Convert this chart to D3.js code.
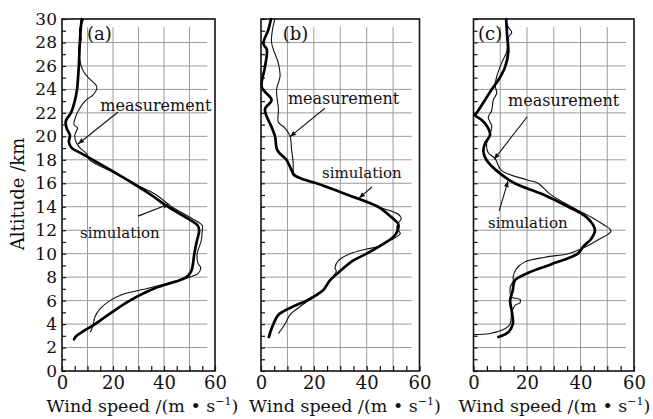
<!DOCTYPE html>
<html>
<head>
<meta charset="utf-8">
<script src="https://cdn.jsdelivr.net/npm/d3@7/dist/d3.min.js"></script>
<style>
  body { margin: 0; background: #fff; }
  svg text { font-family: "DejaVu Serif", serif; fill: #111; }
</style>
</head>
<body>
<div id="chart"></div>
<script>
// ---- data: [wind speed m/s, altitude km] ----
const simA = [[7.7,30],[7.3,29],[7.0,28],[6.8,27],[6.6,26],[6.3,25],[5.9,24],[5.0,23],[3.5,22],[1.5,21.3],[1.8,20.7],[3.1,20.1],[2.7,19.5],[3.9,19.0],[7.6,18.55],[12.1,18],[20,17],[27.8,16],[35,15],[41.5,14],[49.3,13],[53.2,12.4],[53.8,12],[52.9,11.1],[51.9,10],[51.4,9.2],[50.7,8.5],[48.8,8],[44.3,7.6],[36.4,7.05],[26.6,6],[19.5,5],[13,4],[8.4,3.4],[5.7,3.0],[4.7,2.7]];
const measA = [[8.6,30],[7.5,29.5],[6.8,29],[7.6,28.3],[6.5,27.5],[7,26.5],[7.5,26],[8.5,25.5],[10.3,25],[13.5,24.3],[13.6,24],[12,23.5],[9,23],[6,22],[5.1,21.5],[4.7,21],[6.1,20.7],[5.1,20.2],[5.1,19.8],[5.8,19.4],[7.1,19],[9.7,18.5],[10.8,18],[19.5,17],[27.8,16],[37,15],[43,14],[51,13],[55,12.4],[55,12],[54.6,11.1],[53,10],[53.3,9.2],[54.4,8.8],[53.3,8.3],[50,8],[43.6,7.6],[33.8,7.05],[23.4,6.5],[18.8,6],[14.9,5.3],[12.9,4.6],[12.2,3.9],[11.1,3.3]];

const simB = [[3.8,30],[2.8,29.1],[0.9,27.9],[2.2,27.4],[1.5,25.9],[0.3,24.2],[4.0,23.1],[1.5,22.3],[4.0,20.8],[5.3,20.0],[6.2,18.8],[9.6,18],[11.6,17.1],[12.5,16.7],[16.5,16.3],[21,16],[33,15],[44.3,14],[49.4,13.1],[52,12.5],[51.4,11.8],[50,11.4],[46.8,10.9],[40,10],[34.8,9.4],[30.4,8.6],[26,7.7],[23.6,6.9],[17.3,6],[12.2,5.5],[6.6,4.8],[4.7,4],[3.8,3.5],[3,2.9]];
const measB = [[5.3,30],[4.7,29.5],[4.0,28],[6.6,26.2],[7.2,25.1],[5.9,24],[6.6,22.3],[6.6,21.2],[9.1,20.7],[11,20],[11.6,18.8],[12.2,17.7],[12.2,17.1],[12.5,16.8],[16.5,16.3],[21,16],[33,15],[44.3,14],[51.7,13.4],[53.1,13],[52,12.6],[51.4,12.2],[52.7,11.7],[49.5,11.2],[44.3,10.6],[40,10.4],[33.7,10],[29.3,9.4],[28,8.8],[28.5,8.5],[26,7.7],[23.6,6.9],[18,6],[14.8,5.5],[11,4.8],[9.1,4],[6.6,3.2]];

const simC = [[12.2,30],[12.6,28.5],[13,27.2],[11.8,25.9],[9.3,24.8],[6.8,24],[4.3,23.1],[1.2,22],[0.6,21.8],[3.1,21.4],[5.5,20.7],[6.2,20.1],[4.3,19.4],[3.7,18.7],[4.8,18],[8.5,17.1],[15.4,16],[25.4,15.1],[35.4,14],[42.3,13.1],[45.4,12],[44.1,11.3],[41,10.6],[39,10],[29.1,9.1],[19.8,8.3],[15.4,7.7],[14.7,6.9],[13.7,6],[14.3,5.1],[14.7,4],[13,3.3],[9.3,2.9]];
const measC = [[11.8,30],[13,29.3],[14.3,28.9],[13,28.4],[12.4,27.2],[10.6,26.3],[8.7,25.1],[8.1,24.3],[8.7,23.7],[7.4,23.1],[6.8,22.2],[5.5,21.6],[6.8,20.9],[6.2,20.2],[4.9,19.4],[5.5,18.6],[8.1,18.1],[10.4,17.1],[19.8,16.3],[24.2,16],[28.5,15.1],[36.6,14],[44.1,13.1],[49.1,12.4],[51,12.1],[51.4,11.9],[50,11.6],[47.5,11.3],[42.9,10.7],[39.1,10.3],[35.4,10],[26.7,9.7],[19.2,9.3],[16,8.7],[14.8,8],[14.9,7.7],[13.7,7.1],[14.3,6.3],[17.4,6.1],[17.3,5.8],[15.5,5.6],[14.3,5.0],[13.7,4],[11.8,3.6],[6.2,3.2],[0,3.1]];

const panelNames = ["(a)", "(b)", "(c)"];
const speedLabels = [0, 20, 40, 60];
const gridSpeeds = [10, 20, 30, 40, 50];
const gridAlts = d3.range(2, 29, 2);
const xTitle = "Wind speed /(m \u2022 s";
const yTitle = "Altitude /km";

// annotation anchors in data units: text start, arrow tail, arrow tip
const measNotes = [
  { text: [15, 22.2], from: [22.0, 22.07], to: [6.3, 19.35] },
  { text: [10.2, 22.76], from: [24.2, 22.39], to: [11.0, 19.97] },
  { text: [12.9, 22.59], from: [20.1, 21.67], to: [7.7, 18.04] }
];
const simNotes = [
  { text: [7.1, 11.33], from: [29.8, 13.2], to: [42.0, 14.23] },
  { text: [23.1, 16.45], from: [42.0, 15.68], to: [37.1, 14.74] },
  { text: [5.4, 12.19], from: [9.6, 13.64], to: [12.9, 16.19] }
];

// ---- layout ----
const W = 653, H = 419;
const plotTop = 19, plotBottom = 371;
const panelLeft = [62, 261, 473.5];
const panelRight = [215, 419.5, 634];
const titleX = [142.5, 345, 554.5];
const labelAt = [9.8, 8.2, 1.7];

const svg = d3.select("#chart").append("svg")
  .attr("width", W).attr("height", H);

svg.append("defs").append("marker")
  .attr("id", "arrow")
  .attr("viewBox", "0 -5 10 10")
  .attr("refX", 10).attr("refY", 0)
  .attr("markerUnits", "userSpaceOnUse")
  .attr("markerWidth", 8).attr("markerHeight", 6)
  .attr("orient", "auto")
  .append("path").attr("d", "M0,-4L10,0L0,4Z").attr("fill", "#111");

const y = d3.scaleLinear().domain([0, 30]).range([plotBottom, plotTop]);

const sims = [simA, simB, simC];
const meass = [measA, measB, measC];

panelNames.forEach((name, i) => {
  const x = d3.scaleLinear().domain([0, 60]).range([panelLeft[i], panelRight[i]]);
  const g = svg.append("g");

  // grid
  g.selectAll(".vg").data(gridSpeeds).enter().append("line")
    .attr("x1", d => x(d)).attr("x2", d => x(d))
    .attr("y1", y(0)).attr("y2", y(29.3))
    .attr("stroke", "#9a9a9a").attr("stroke-width", 1);
  g.selectAll(".hg").data(gridAlts).enter().append("line")
    .attr("x1", x(0)).attr("x2", x(57))
    .attr("y1", d => y(d)).attr("y2", d => y(d))
    .attr("stroke", "#9a9a9a").attr("stroke-width", 1);

  // panel letter
  g.append("text").attr("x", x(labelAt[i])).attr("y", y(28.2))
    .attr("font-size", 18).text(name);

  // curves
  const line = d3.line().x(d => x(d[0])).y(d => y(d[1])).curve(d3.curveCatmullRom.alpha(0.5));
  g.append("path").datum(meass[i]).attr("d", line)
    .attr("fill", "none").attr("stroke", "#111").attr("stroke-width", 1.1);
  g.append("path").datum(sims[i]).attr("d", line)
    .attr("fill", "none").attr("stroke", "#000").attr("stroke-width", 2.7)
    .attr("stroke-linejoin", "round").attr("stroke-linecap", "round");

  // axes: inward ticks
  const yAxis = d3.axisLeft(y).tickValues(d3.range(0, 31, 1))
    .tickSizeInner(-4).tickSizeOuter(0).tickPadding(5)
    .tickFormat(d => (i === 0 && d % 2 === 0) ? d : "");
  const ya = g.append("g").attr("transform", `translate(${x(0)},0)`).call(yAxis);
  ya.select(".domain").remove();
  ya.selectAll("text").attr("font-family", "DejaVu Serif").attr("font-size", 17).attr("fill", "#111");
  ya.selectAll("line").attr("stroke", "#111").attr("stroke-width", 1.2);

  const xAxis = d3.axisBottom(x).tickValues(d3.range(0, 61, 5))
    .tickSizeInner(-5).tickSizeOuter(0).tickPadding(5)
    .tickFormat(d => speedLabels.includes(d) ? d : "");
  const xa = g.append("g").attr("transform", `translate(0,${y(0)})`).call(xAxis);
  xa.select(".domain").remove();
  xa.selectAll("text").attr("font-family", "DejaVu Serif").attr("font-size", 18).attr("fill", "#111");
  xa.selectAll("line").attr("stroke", "#111").attr("stroke-width", 1.2);

  // frame
  g.append("rect")
    .attr("x", x(0)).attr("y", y(30))
    .attr("width", x(60) - x(0)).attr("height", y(0) - y(30))
    .attr("fill", "none").attr("stroke", "#111").attr("stroke-width", 1.6);

  // annotations
  [[measNotes[i], "measurement", 16], [simNotes[i], "simulation", 15]].forEach(([n, txt, fs]) => {
    g.append("text").attr("x", x(n.text[0])).attr("y", y(n.text[1]))
      .attr("font-size", fs).text(txt);
    g.append("line")
      .attr("x1", x(n.from[0])).attr("y1", y(n.from[1]))
      .attr("x2", x(n.to[0])).attr("y2", y(n.to[1]))
      .attr("stroke", "#111").attr("stroke-width", 1.1)
      .attr("marker-end", "url(#arrow)");
  });

  // x title
  const t = svg.append("text").attr("x", titleX[i]).attr("y", 412)
    .attr("text-anchor", "middle").attr("font-size", 17.5);
  t.append("tspan").text(xTitle);
  t.append("tspan").attr("dy", -7).attr("font-size", 11).text("\u22121");
  t.append("tspan").attr("dy", 7).text(")");
});

// y title
svg.append("text")
  .attr("transform", `translate(24,194) rotate(-90)`)
  .attr("text-anchor", "middle").attr("font-size", 18)
  .text(yTitle);
</script>
</body>
</html>
